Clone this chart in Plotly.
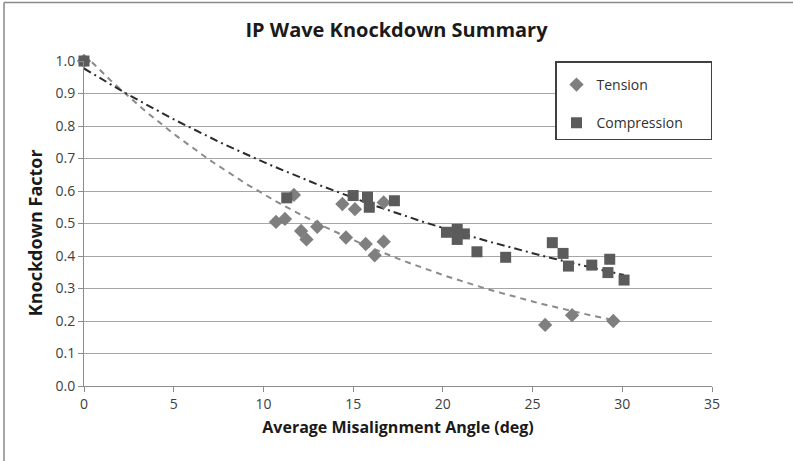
import numpy as np
import plotly.graph_objects as go

# Tension test points (angle in deg, knockdown factor)
tension_angle = [0.0, 10.7, 11.2, 11.7, 12.1, 12.4, 13.0, 14.4, 14.6, 15.1, 15.7, 16.2, 16.7, 16.7, 25.7, 27.2, 29.5]
tension_kd = [1.00, 0.505, 0.514, 0.588, 0.477, 0.451, 0.490, 0.560, 0.457, 0.544, 0.437, 0.402, 0.565, 0.444, 0.188, 0.218, 0.200]

# Compression test points
compression_angle = [0.0, 11.3, 15.0, 15.8, 15.9, 17.3, 20.2, 20.8, 20.8, 21.2, 21.9, 23.5, 26.1, 26.7, 27.0, 28.3, 29.3, 29.2, 30.1]
compression_kd = [1.00, 0.579, 0.586, 0.581, 0.550, 0.570, 0.473, 0.482, 0.451, 0.468, 0.413, 0.396, 0.441, 0.408, 0.369, 0.372, 0.390, 0.349, 0.326]

# exponential trendlines y = a * exp(b * x), coefficients
tension_trend = (1.02, -0.0547)
compression_trend = (0.977, -0.0349)

x_ticks = [0, 5, 10, 15, 20, 25, 30, 35]
y_ticks = [0.0, 0.1, 0.2, 0.3, 0.4, 0.5, 0.6, 0.7, 0.8, 0.9, 1.0]

FONT = "'Open Sans', sans-serif"
PAD = "\u00a0" * 6  # widens the legend box a little


def trend_line(xs, coef):
    a, b = coef
    xx = np.linspace(min(xs), max(xs), 120)
    return xx, a * np.exp(b * xx)


fig = go.Figure()

tx, ty = trend_line(tension_angle, tension_trend)
cx, cy = trend_line(compression_angle, compression_trend)

fig.add_trace(go.Scatter(
    x=tx, y=ty, mode="lines", showlegend=False, hoverinfo="skip",
    line=dict(color="#8a8a8a", width=2, dash="6px,5px"),
))
fig.add_trace(go.Scatter(
    x=cx, y=cy, mode="lines", showlegend=False, hoverinfo="skip",
    line=dict(color="#2b2b2b", width=2, dash="8px,4px,2px,4px"),
))
fig.add_trace(go.Scatter(
    x=tension_angle, y=tension_kd, mode="markers", name="Tension",
    legendgroup="t", cliponaxis=False,
    marker=dict(symbol="diamond", size=11, color="#7f7f7f"),
))
fig.add_trace(go.Scatter(
    x=compression_angle, y=compression_kd, mode="markers", name="Compression" + PAD,
    legendgroup="c", cliponaxis=False,
    marker=dict(symbol="square", size=11, color="#5b5b5b"),
))

fig.update_layout(
    width=793,
    height=461,
    margin=dict(l=84, r=81, t=61, b=75),
    paper_bgcolor="white",
    plot_bgcolor="white",
    font=dict(family=FONT, size=14, color="#404040"),
    title=dict(
        text="<b>IP Wave Knockdown Summary</b>",
        x=0.5, xanchor="center", y=0.935, yanchor="middle",
        font=dict(family=FONT, size=20, color="#1a1a1a"),
    ),
    legend=dict(
        x=0.75, y=1.0, xanchor="left", yanchor="top",
        bordercolor="#404040", borderwidth=1.5,
        bgcolor="white",
        tracegroupgap=17,
        traceorder="grouped",
        title=dict(text=" ", font=dict(size=5)),
        font=dict(family=FONT, size=14, color="#303030"),
    ),
    annotations=[
        dict(text="<b>Knockdown Factor</b>", textangle=-90,
             xref="paper", yref="paper", x=-0.078, y=0.47,
             xanchor="center", yanchor="middle", showarrow=False,
             font=dict(family=FONT, size=18, color="#1a1a1a")),
    ],
    shapes=[
        dict(type="line", xref="paper", yref="paper",
             x0=-0.1274, x1=-0.1274, y0=-0.3, y1=1.18,
             line=dict(color="#888888", width=1.5)),
        dict(type="line", xref="paper", yref="paper",
             x0=-0.1274, x1=1.2, y0=1.18, y1=1.18,
             line=dict(color="#888888", width=1.5)),
    ],
)

fig.update_xaxes(
    range=[0, 35],
    tickvals=x_ticks,
    showgrid=False,
    zeroline=False,
    showline=True, linecolor="#8c8c8c", linewidth=1,
    ticks="outside", ticklen=5, tickcolor="#8c8c8c",
    tickfont=dict(size=14, color="#404040"),
    title=dict(text="<b>Average Misalignment Angle (deg)</b>",
               font=dict(size=16, color="#1a1a1a"), standoff=10),
)
fig.update_yaxes(
    range=[0, 1.0],
    tickvals=y_ticks,
    tickformat=".1f",
    showgrid=True, gridcolor="#a6a6a6", gridwidth=1,
    zeroline=False,
    showline=True, linecolor="#8c8c8c", linewidth=1,
    ticks="outside", ticklen=5, tickcolor="#8c8c8c",
    tickfont=dict(size=14, color="#404040"),
)

fig.write_html("out.html", config={"displayModeBar": False},
               post_script="document.body.style.margin='0';")
